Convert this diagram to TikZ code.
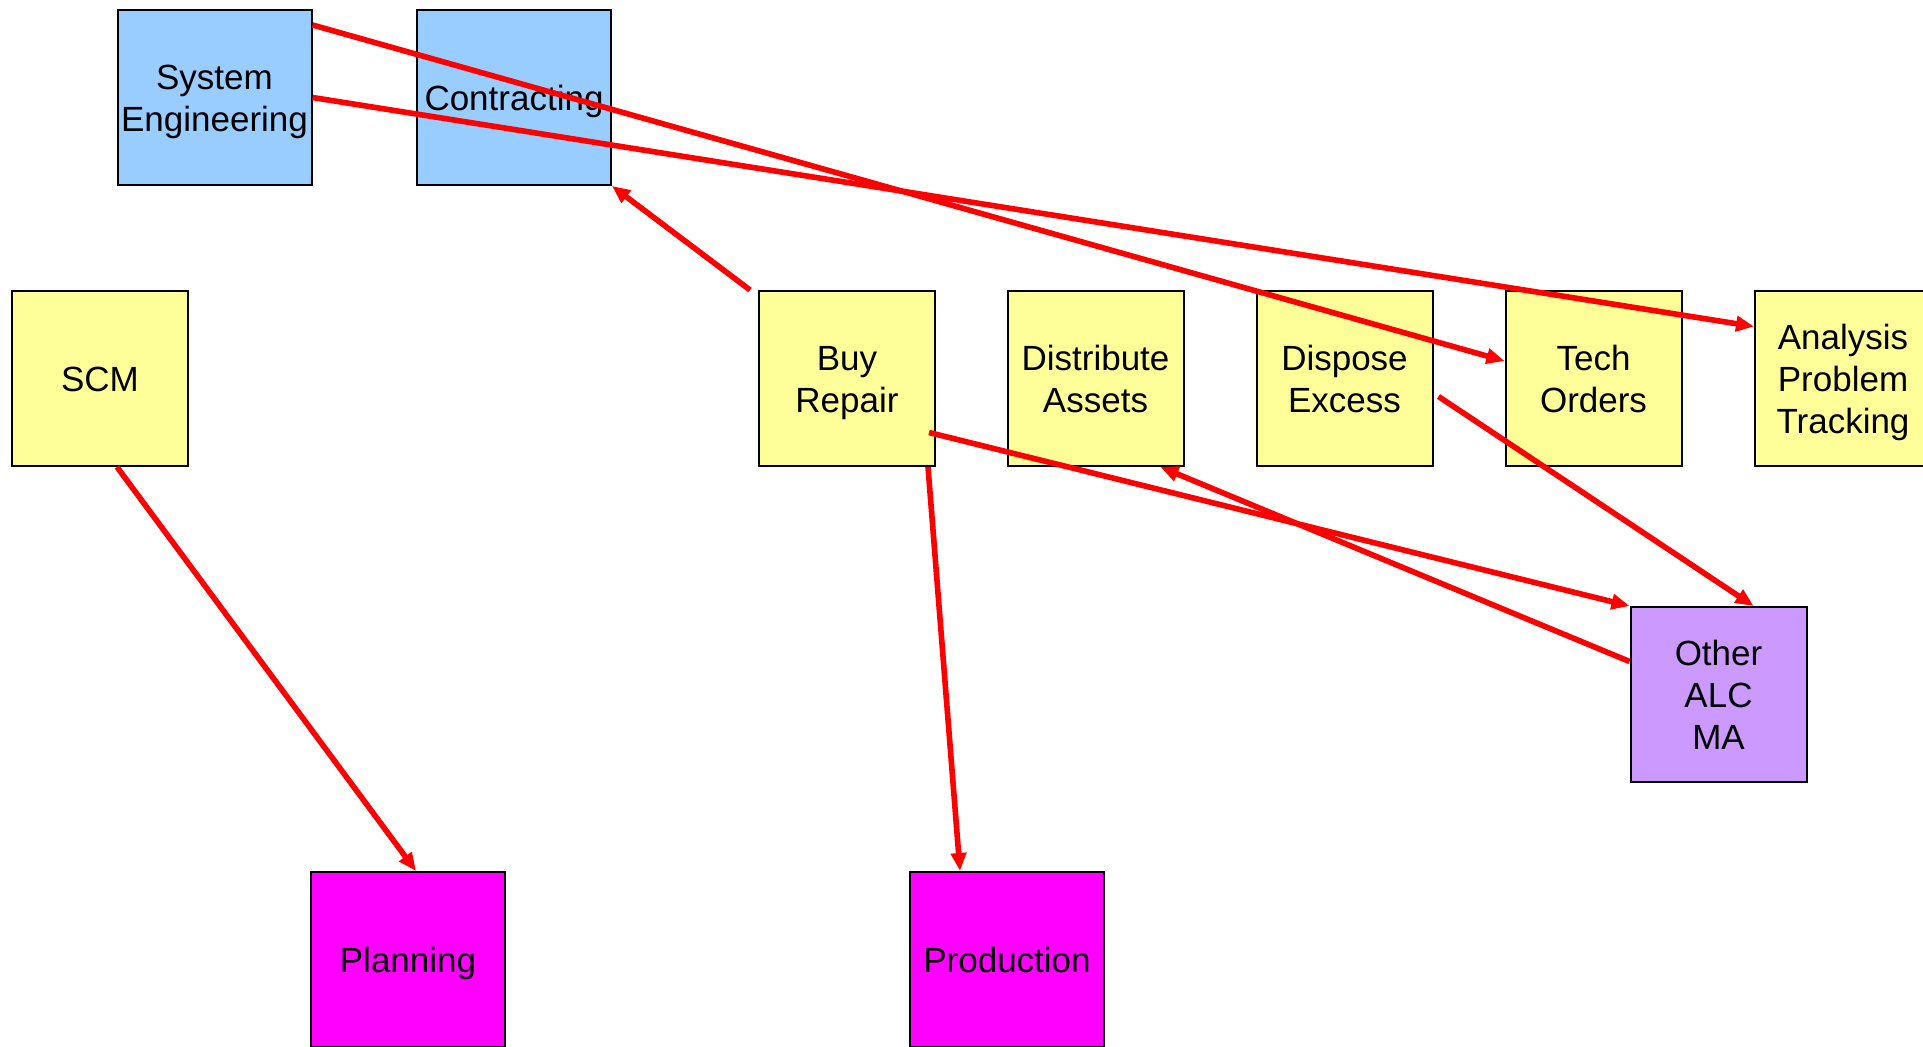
\documentclass[tikz,border=0pt]{standalone}
\usepackage{fontspec}
\setmainfont{Liberation Sans}
\usetikzlibrary{calc,arrows.meta}
\definecolor{cblue}{HTML}{99CCFF}
\definecolor{cyellow}{HTML}{FFFF99}
\definecolor{cmagenta}{HTML}{FF00FF}
\definecolor{cpurple}{HTML}{CC99FF}
\definecolor{cred}{HTML}{FF0000}
\newcommand{\lnstrut}{\rule[-4pt]{0pt}{21pt}}
\begin{document}
\begin{tikzpicture}[x=0.5pt,y=-0.5pt,
  box/.style={draw=black,line width=1pt,rectangle,inner sep=0pt,align=center,
    font=\fontsize{17.5}{21}\selectfont},
  sq/.style={box,minimum width=88pt,minimum height=87.5pt},
  wide/.style={box,minimum width=97pt,minimum height=87.5pt},
  link/.style={draw=cred,line width=2.8pt,-{Triangle[length=9pt,width=7.5pt]}}]
\useasboundingbox (0,0) rectangle (1923,1047);
\node[wide,fill=cblue] (se) at (214.5,97.5) {\lnstrut System\\\lnstrut Engineering};
\node[wide,fill=cblue] (con) at (514,97.5) {\lnstrut Contracting};
\node[sq,fill=cyellow] (scm) at (100,378.5) {\lnstrut SCM};
\node[sq,fill=cyellow] (buy) at (847,378.5) {\lnstrut Buy\\\lnstrut Repair};
\node[sq,fill=cyellow] (dis) at (1095.5,378.5) {\lnstrut Distribute\\\lnstrut Assets};
\node[sq,fill=cyellow] (dsp) at (1344.5,378.5) {\lnstrut Dispose\\\lnstrut Excess};
\node[sq,fill=cyellow] (tech) at (1593.5,378.5) {\lnstrut Tech\\\lnstrut Orders};
\node[sq,fill=cyellow] (ana) at (1843,378.5) {\lnstrut Analysis\\\lnstrut Problem\\\lnstrut Tracking};
\node[sq,fill=cpurple] (oth) at (1718.5,694.5) {\lnstrut Other\\\lnstrut ALC\\\lnstrut MA};
\node[wide,fill=cmagenta] (plan) at (408,959.5) {\lnstrut Planning};
\node[wide,fill=cmagenta] (prod) at (1007,959.5) {\lnstrut Production};

\draw[link] ($(se.north east)+(0,16)$) -- ($(tech.west)+(0,-17.5)$);
\draw[link] (se.east) -- ($(ana.west)+(0,-52)$);
\draw[link] ($(buy.north west)+(-8,0)$) -- (con.south east);
\draw[link] ($(buy.east)+(-7,54)$) -- (oth.north west);
\draw[link] ($(buy.south east)+(-8,0)$) -- ($(prod.north west)+(51,0)$);
\draw[link] ($(oth.west)+(0,-33)$) -- ($(dis.south east)+(-24,0)$);
\draw[link] ($(dsp.east)+(5,18)$) -- ($(oth.north)+(35,0)$);
\draw[link] ($(scm.south)+(17,0)$) -- ($(plan.north)+(8,0)$);
\end{tikzpicture}
\end{document}
